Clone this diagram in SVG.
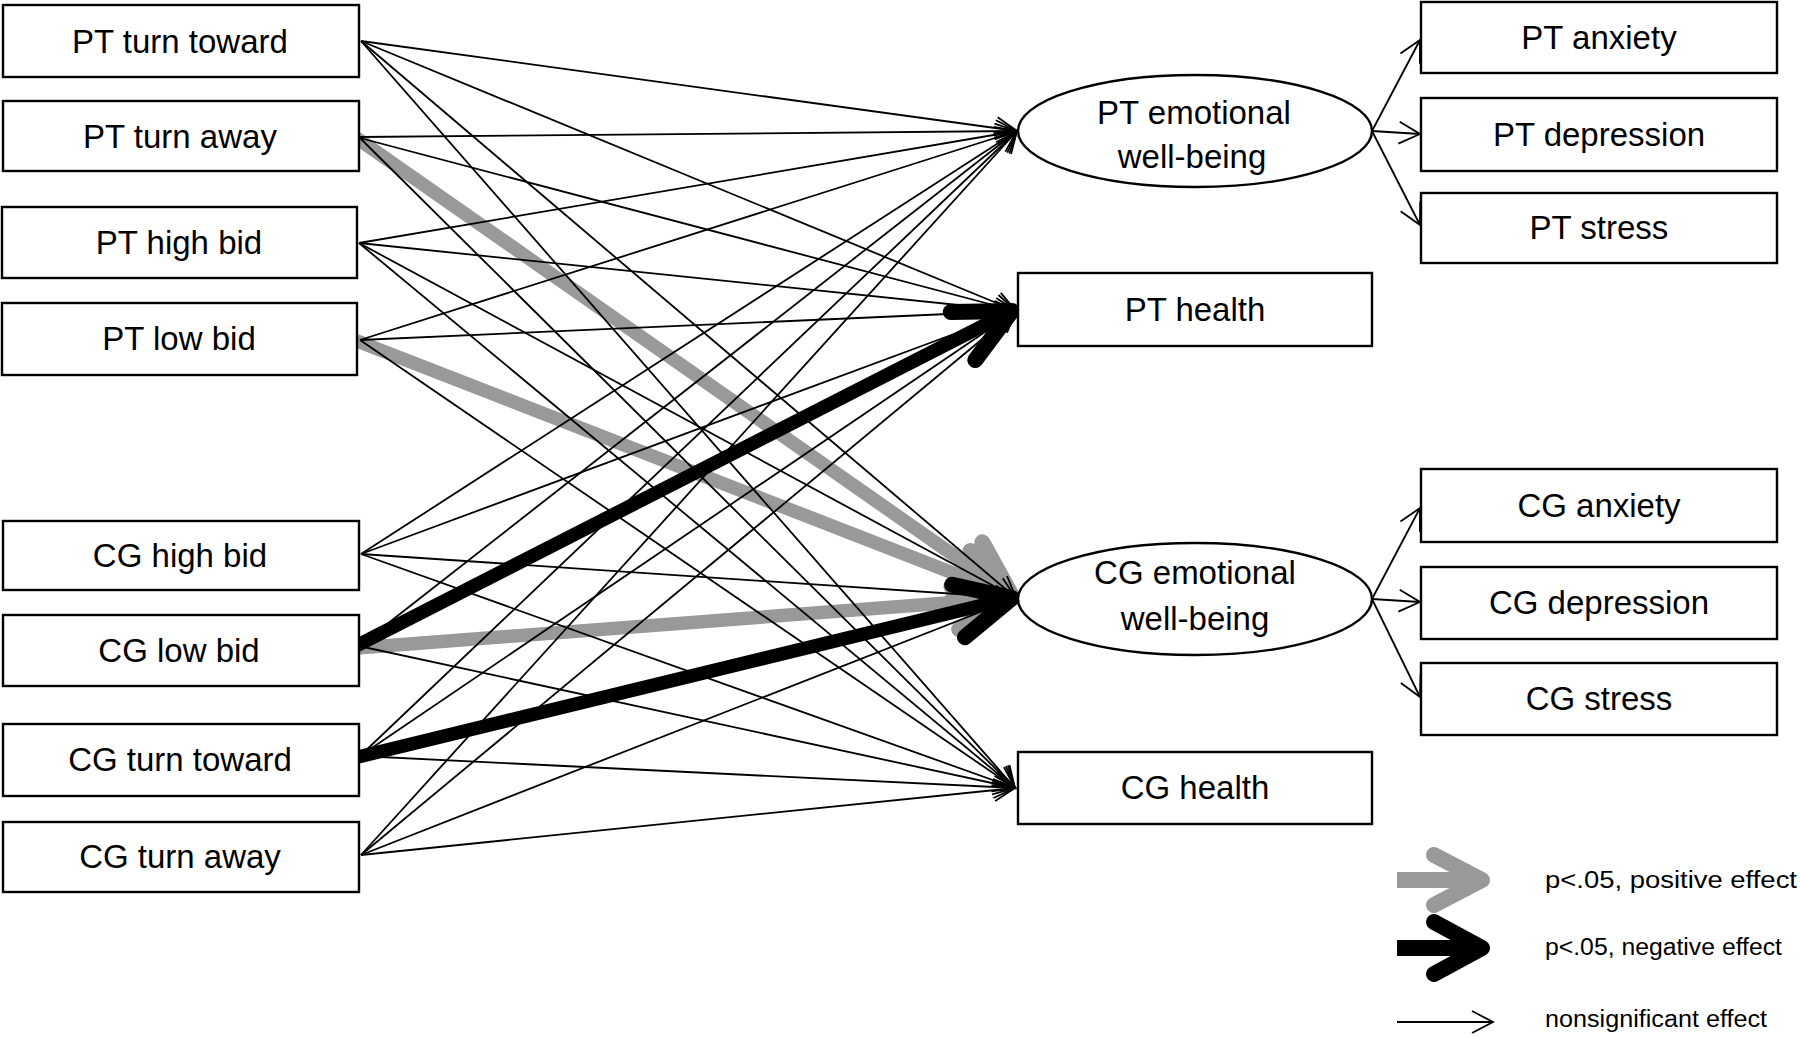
<svg xmlns="http://www.w3.org/2000/svg" width="1800" height="1038" viewBox="0 0 1800 1038">
<style>
.box{fill:#fff;stroke:#000;stroke-width:2.4}
.lbl{font-family:"Liberation Sans",Arial,sans-serif;font-size:33px;fill:#000;text-anchor:middle}
.leg{font-family:"Liberation Sans",Arial,sans-serif;font-size:23px;fill:#000}
.thin{fill:none;stroke:#000;stroke-width:1.8;marker-end:url(#mThin)}
.gray{fill:none;stroke:#999;stroke-width:13.5;stroke-linecap:round;marker-end:url(#mGray)}
.black{fill:none;stroke:#000;stroke-width:13.5;stroke-linecap:round;marker-end:url(#mBlack)}
</style>
<defs>
<marker id="mThin" markerUnits="userSpaceOnUse" orient="auto" viewBox="-30 -20 35 40" markerWidth="35" markerHeight="40" refX="0" refY="0">
<path d="M-21,-11 L0,0 L-21,11" fill="none" stroke="#000" stroke-width="1.8"/>
</marker>
<marker id="mGray" markerUnits="userSpaceOnUse" orient="auto" viewBox="-75 -50 90 100" markerWidth="90" markerHeight="100" refX="0" refY="0">
<path d="M-55,-27 L0,0 L-55,27" fill="none" stroke="#999" stroke-width="16" stroke-linecap="round" stroke-linejoin="round"/>
</marker>
<marker id="mBlack" markerUnits="userSpaceOnUse" orient="auto" viewBox="-75 -50 90 100" markerWidth="90" markerHeight="100" refX="0" refY="0">
<path d="M-55,-27 L0,0 L-55,27" fill="none" stroke="#000" stroke-width="16" stroke-linecap="round" stroke-linejoin="round"/>
</marker>
</defs>
<rect width="1800" height="1038" fill="#fff"/>

<g id="connectors">
<!-- significant positive (gray) -->
<line class="gray" x1="358" y1="139" x2="1012" y2="596"/>
<line class="gray" x1="357" y1="341" x2="1012" y2="596"/>
<line class="gray" x1="357" y1="648" x2="1012" y2="598"/>
<!-- significant negative (black) -->
<line class="black" x1="358" y1="645" x2="1012" y2="311"/>
<line class="black" x1="358" y1="757" x2="1012" y2="598"/>
<!-- nonsignificant -->
<line class="thin" x1="361" y1="41" x2="1017" y2="131"/>
<line class="thin" x1="361" y1="41" x2="1016" y2="311"/>
<line class="thin" x1="361" y1="41" x2="1016" y2="598"/>
<line class="thin" x1="361" y1="41" x2="1015" y2="788"/>
<line class="thin" x1="360" y1="137" x2="1017" y2="131"/>
<line class="thin" x1="360" y1="138" x2="1016" y2="311"/>
<line class="thin" x1="360" y1="138" x2="1015" y2="788"/>
<line class="thin" x1="359" y1="243" x2="1017" y2="131"/>
<line class="thin" x1="359" y1="243" x2="1016" y2="311"/>
<line class="thin" x1="359" y1="243" x2="1016" y2="598"/>
<line class="thin" x1="359" y1="243" x2="1015" y2="788"/>
<line class="thin" x1="360" y1="340" x2="1017" y2="131"/>
<line class="thin" x1="360" y1="340" x2="1016" y2="311"/>
<line class="thin" x1="360" y1="340" x2="1015" y2="788"/>
<line class="thin" x1="361" y1="554" x2="1017" y2="131"/>
<line class="thin" x1="361" y1="554" x2="1016" y2="311"/>
<line class="thin" x1="361" y1="554" x2="1016" y2="598"/>
<line class="thin" x1="361" y1="554" x2="1015" y2="788"/>
<line class="thin" x1="359" y1="646" x2="1017" y2="131"/>
<line class="thin" x1="359" y1="646" x2="1015" y2="788"/>
<line class="thin" x1="360" y1="756" x2="1017" y2="131"/>
<line class="thin" x1="360" y1="756" x2="1016" y2="311"/>
<line class="thin" x1="360" y1="756" x2="1015" y2="788"/>
<line class="thin" x1="361" y1="855" x2="1017" y2="131"/>
<line class="thin" x1="361" y1="855" x2="1016" y2="311"/>
<line class="thin" x1="361" y1="855" x2="1016" y2="598"/>
<line class="thin" x1="361" y1="855" x2="1015" y2="788"/>
<!-- measurement model -->
<line class="thin" x1="1372" y1="131" x2="1420" y2="40"/>
<line class="thin" x1="1372" y1="131" x2="1420" y2="134"/>
<line class="thin" x1="1372" y1="131" x2="1420" y2="225"/>
<line class="thin" x1="1372" y1="599" x2="1420" y2="508"/>
<line class="thin" x1="1372" y1="599" x2="1420" y2="602"/>
<line class="thin" x1="1372" y1="599" x2="1420" y2="697"/>
</g>

<g id="pt-turn-toward"><rect class="box" x="3" y="5" width="356" height="72"/><text class="lbl" x="180" y="53">PT turn toward</text></g>
<g id="pt-turn-away"><rect class="box" x="3" y="101" width="356" height="70"/><text class="lbl" x="180" y="148">PT turn away</text></g>
<g id="pt-high-bid"><rect class="box" x="2" y="207" width="355" height="71"/><text class="lbl" x="179" y="254">PT high bid</text></g>
<g id="pt-low-bid"><rect class="box" x="2" y="303" width="355" height="72"/><text class="lbl" x="179" y="350">PT low bid</text></g>
<g id="cg-high-bid"><rect class="box" x="3" y="521" width="356" height="69"/><text class="lbl" x="180" y="567">CG high bid</text></g>
<g id="cg-low-bid"><rect class="box" x="3" y="615" width="356" height="71"/><text class="lbl" x="179" y="662">CG low bid</text></g>
<g id="cg-turn-toward"><rect class="box" x="3" y="724" width="356" height="72"/><text class="lbl" x="180" y="771">CG turn toward</text></g>
<g id="cg-turn-away"><rect class="box" x="3" y="822" width="356" height="70"/><text class="lbl" x="180" y="868">CG turn away</text></g>

<g id="pt-emotional"><ellipse class="box" cx="1195" cy="131" rx="177" ry="56"/><text class="lbl" x="1194" y="124">PT emotional</text><text class="lbl" x="1192" y="168">well-being</text></g>
<g id="pt-health"><rect class="box" x="1018" y="273" width="354" height="73"/><text class="lbl" x="1195" y="321">PT health</text></g>
<g id="cg-emotional"><ellipse class="box" cx="1195" cy="599" rx="177" ry="56"/><text class="lbl" x="1195" y="584">CG emotional</text><text class="lbl" x="1195" y="630">well-being</text></g>
<g id="cg-health"><rect class="box" x="1018" y="752" width="354" height="72"/><text class="lbl" x="1195" y="799">CG health</text></g>

<g id="pt-anxiety"><rect class="box" x="1421" y="2" width="356" height="71"/><text class="lbl" x="1599" y="49">PT anxiety</text></g>
<g id="pt-depression"><rect class="box" x="1421" y="98" width="356" height="73"/><text class="lbl" x="1599" y="146">PT depression</text></g>
<g id="pt-stress"><rect class="box" x="1421" y="193" width="356" height="70"/><text class="lbl" x="1599" y="239">PT stress</text></g>
<g id="cg-anxiety"><rect class="box" x="1421" y="469" width="356" height="73"/><text class="lbl" x="1599" y="517">CG anxiety</text></g>
<g id="cg-depression"><rect class="box" x="1421" y="567" width="356" height="72"/><text class="lbl" x="1599" y="614">CG depression</text></g>
<g id="cg-stress"><rect class="box" x="1421" y="663" width="356" height="72"/><text class="lbl" x="1599" y="710">CG stress</text></g>

<g id="legend">
<line x1="1397" y1="880" x2="1481" y2="880" stroke="#999" stroke-width="16"/>
<path d="M1434,855 L1482,880 L1434,905" fill="none" stroke="#999" stroke-width="16" stroke-linecap="round" stroke-linejoin="round"/>
<line x1="1397" y1="948" x2="1481" y2="948" stroke="#000" stroke-width="16"/>
<path d="M1434,922 L1482,948 L1434,974" fill="none" stroke="#000" stroke-width="16" stroke-linecap="round" stroke-linejoin="round"/>
<line x1="1397" y1="1022" x2="1493" y2="1022" stroke="#000" stroke-width="1.8"/>
<path d="M1472,1011 L1493,1022 L1472,1033" fill="none" stroke="#000" stroke-width="1.8"/>
<text class="leg" x="1545" y="888" textLength="252" lengthAdjust="spacingAndGlyphs">p&lt;.05, positive effect</text>
<text class="leg" x="1545" y="955" textLength="237" lengthAdjust="spacingAndGlyphs">p&lt;.05, negative effect</text>
<text class="leg" x="1545" y="1027" textLength="222" lengthAdjust="spacingAndGlyphs">nonsignificant  effect</text>
</g>
</svg>
